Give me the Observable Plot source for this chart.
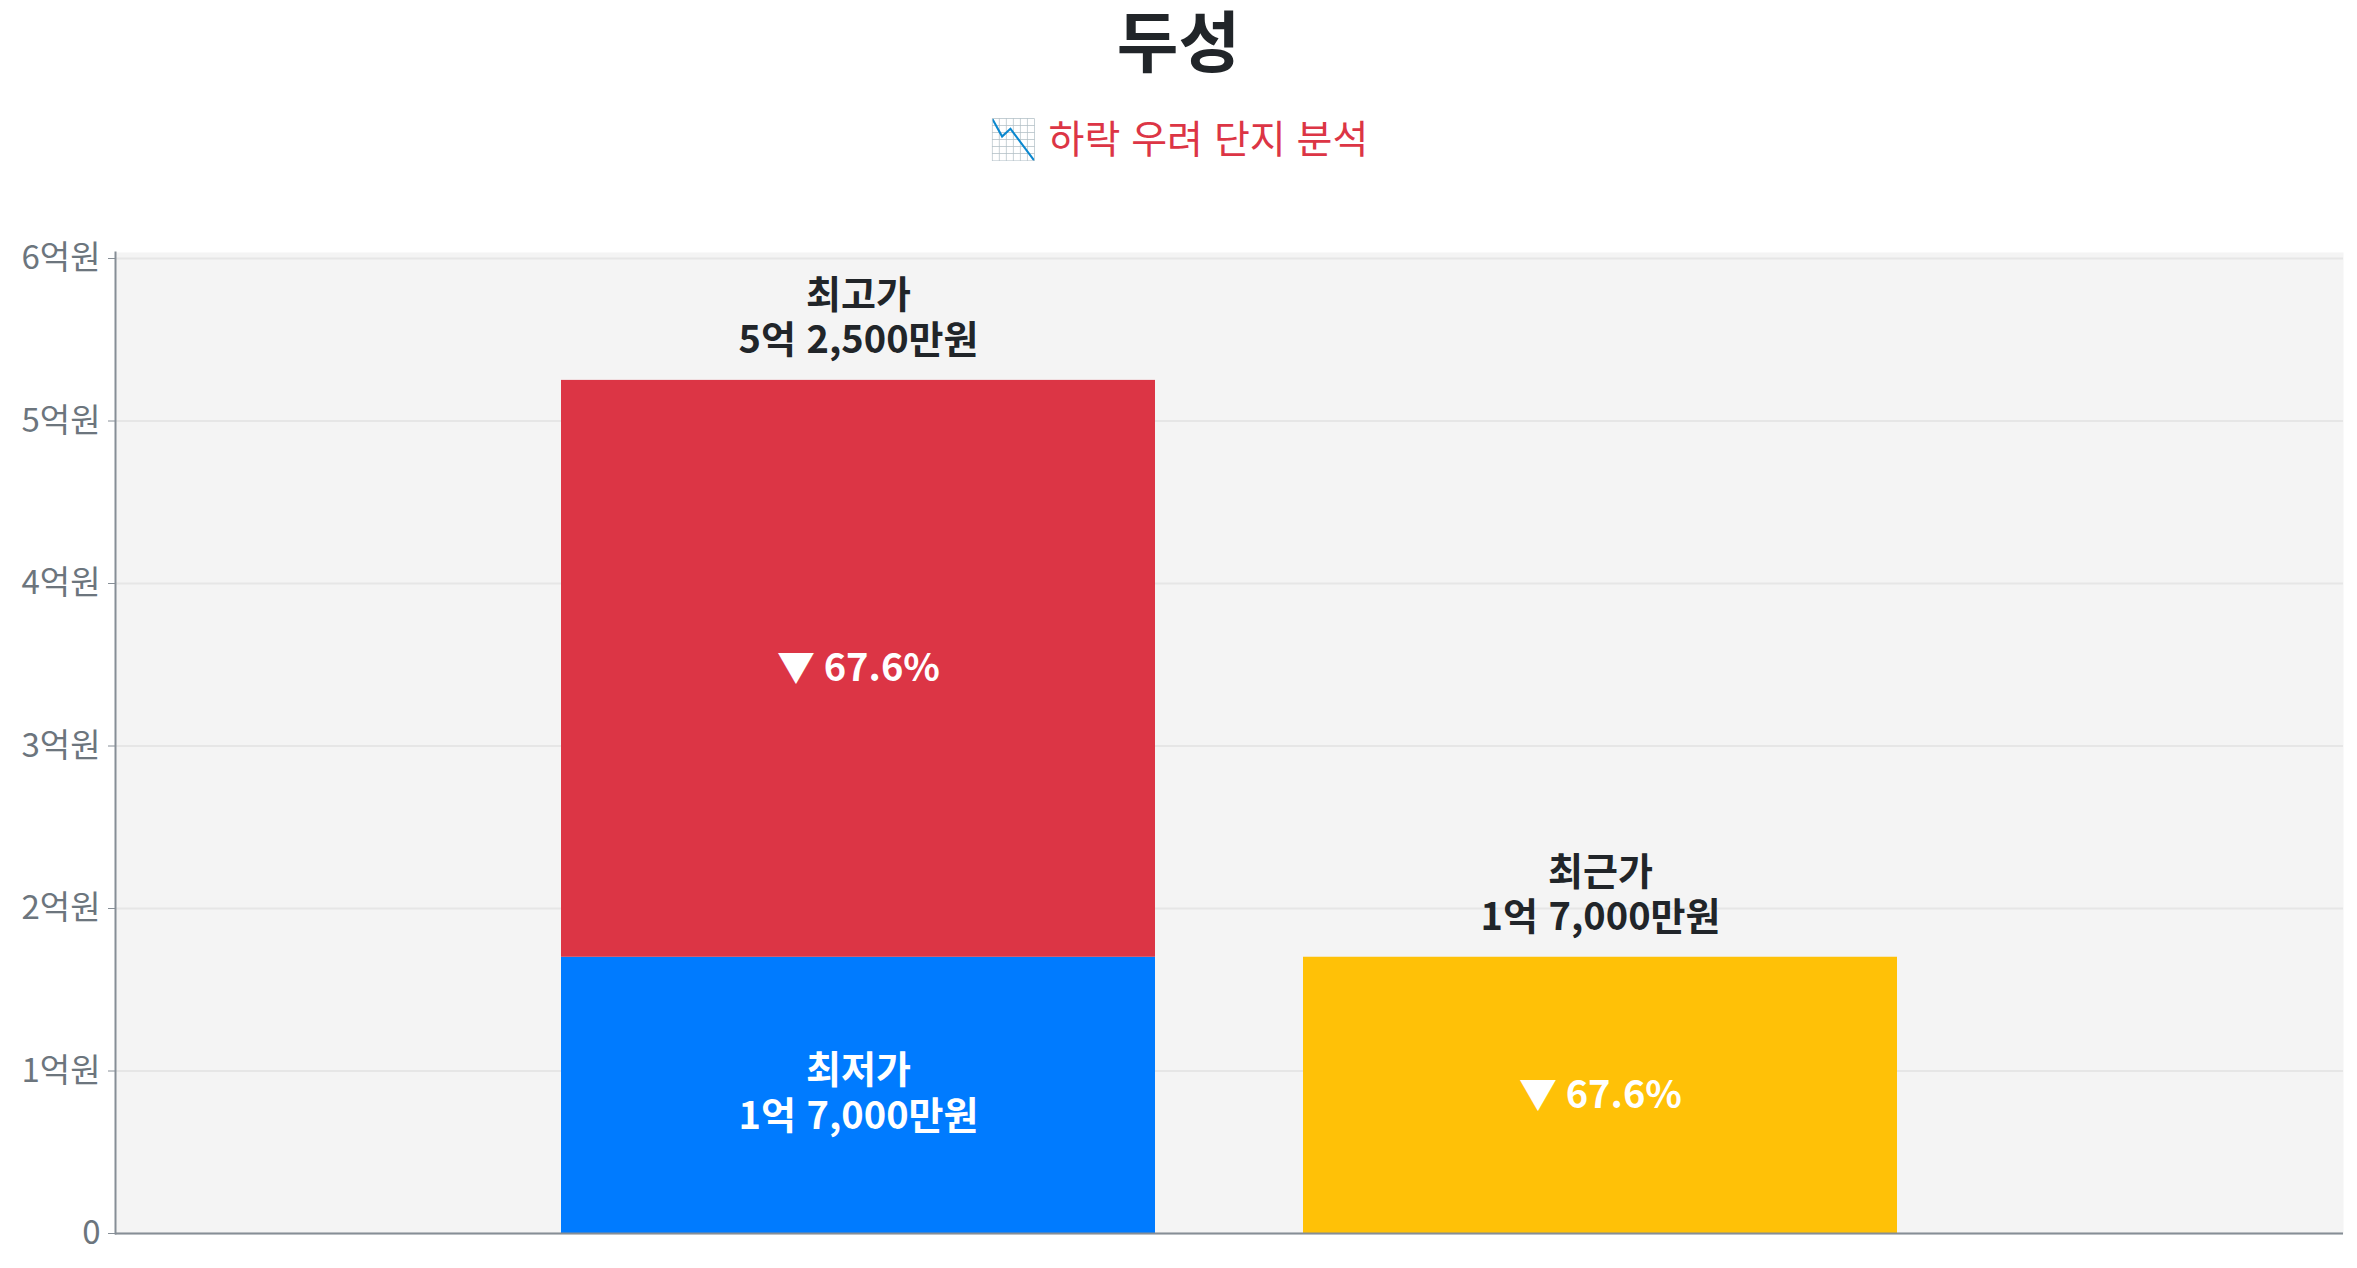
<!DOCTYPE html>
<html lang="ko">
<head>
<meta charset="utf-8">
<script src="https://cdn.jsdelivr.net/npm/d3@7"></script>
<script src="https://cdn.jsdelivr.net/npm/@observablehq/plot@0.6"></script>
<style>
  html, body { margin: 0; padding: 0; background: #ffffff; }
  body { width: 2357px; height: 1268px; overflow: hidden; font-family: "Noto Sans CJK KR", "Noto Sans", sans-serif; }
  #title { height: 80px; padding-top: 0; line-height: 76px; text-align: center; font-size: 67px; font-weight: 700; color: #212529; }
  #subtitle { height: 100px; box-sizing: border-box; padding-top: 36px; line-height: 40px; text-align: center; font-size: 39px; font-weight: 400; color: #dc3545; }
  #chart svg { display: block; }
</style>
</head>
<body>
<div id="title">두성</div>
<div id="subtitle">📉 하락 우려 단지 분석</div>
<div id="chart"></div>
<script>
// ---- data ----
const barGroups = ["최저가·최고가", "최근가"];
const segGroup = ["최저가·최고가", "최저가·최고가", "최근가"];
const segName = ["최저가", "최고가", "최근가"];
const segLow = [0, 1.7, 0];          // 억원
const segHigh = [1.7, 5.25, 1.7];    // 억원
const segColor = ["#007bff", "#dc3545", "#ffc107"];
const priceValue = [1.7, 5.25, 1.7]; // 억원, price shown in each label
const dropPct = [null, 67.6, 67.6];  // 하락률 (%)
const yTicks = [0, 1, 2, 3, 4, 5, 6];

function fmtKRW(v) {
  const eok = Math.floor(v + 1e-9);
  const man = Math.round((v - eok) * 10000);
  let s = eok ? eok + "억" : "";
  if (man) s += (s ? " " : "") + man.toLocaleString("en-US") + "만원";
  else s += "원";
  return s;
}

const rows = segName.map((n, i) => ({
  group: segGroup[i], name: n, low: segLow[i], high: segHigh[i],
  mid: (segLow[i] + segHigh[i]) / 2, price: priceValue[i], drop: dropPct[i],
  label: n + "\n" + fmtKRW(priceValue[i])
}));

const insideNameRows = rows.filter(d => d.name === "최저가");
const aboveRows = rows.filter(d => d.name !== "최저가");
const dropRows = rows.filter(d => d.drop != null);

const axisColor = "#868e96";

const chart = Plot.plot({
  width: 2357,
  height: 1088,
  marginTop: 72,
  marginBottom: 35,
  marginLeft: 115,
  marginRight: 14,
  style: { fontFamily: "'Noto Sans CJK KR', 'Noto Sans', sans-serif", background: "transparent", overflow: "visible" },
  x: { domain: barGroups, paddingInner: 0.2, paddingOuter: 0.6, axis: null },
  y: { domain: [0, 6.037], axis: null },
  color: { domain: segName, range: segColor },
  marks: [
    Plot.frame({ fill: "#f4f4f4", stroke: null }),
    Plot.gridY(yTicks, { stroke: "#e6e6e6", strokeOpacity: 1, strokeWidth: 2 }),
    Plot.barY(rows, { x: "group", y1: "low", y2: "high", fill: "name" }),
    Plot.axisY(yTicks, {
      tickFormat: d => d === 0 ? "0" : d + "억원",
      fontSize: 33, fill: "#6c757d", stroke: axisColor, tickSize: 7, tickPadding: 8
    }),
    Plot.ruleY([0], { stroke: axisColor, strokeWidth: 2 }),
    Plot.frame({ anchor: "left", stroke: axisColor, strokeWidth: 2 }),
    Plot.text(aboveRows, {
      x: "group", y: "high", text: "label", lineAnchor: "bottom", dy: -27,
      fontSize: 38, fontWeight: 700, fill: "#212529", lineHeight: 1.2
    }),
    Plot.text(insideNameRows, {
      x: "group", y: "mid", text: "label", lineAnchor: "middle", dy: -4,
      fontSize: 38, fontWeight: 700, fill: "#ffffff", lineHeight: 1.2
    }),
    Plot.text(dropRows, {
      x: "group", y: "mid", text: d => "▼ " + d.drop.toFixed(1) + "%", lineAnchor: "middle",
      fontSize: 38, fontWeight: 700, fill: "#ffffff"
    })
  ]
});
document.getElementById("chart").appendChild(chart);
</script>
</body>
</html>
